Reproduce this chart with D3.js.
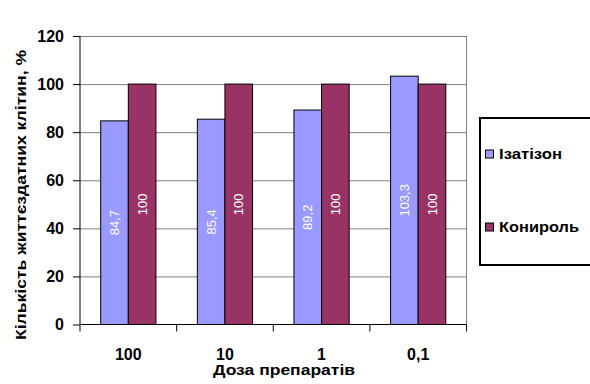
<!DOCTYPE html>
<html>
<head>
<meta charset="utf-8">
<script src="https://cdn.jsdelivr.net/npm/d3@7/dist/d3.min.js"></script>
<style>
  body { margin: 0; background: #fff; }
  svg { display: block; font-family: "Liberation Sans", Arial, sans-serif; }
</style>
</head>
<body>
<svg id="chart" width="590" height="384"></svg>
<script>
const categories = ["100", "10", "1", "0,1"];
const seriesNames = ["Ізатізон", "Конироль"];
const isatizon = [84.7, 85.4, 89.2, 103.3];
const control = [100, 100, 100, 100];
const valueLabels1 = ["84,7", "85,4", "89,2", "103,3"];
const valueLabels2 = ["100", "100", "100", "100"];
const yTicks = [0, 20, 40, 60, 80, 100, 120];
const yTitle = "Кількість життєздатних  клітин, %";
const xTitle = "Доза препаратів";
const colors = ["#9999FF", "#993366"];

(function () {
const svg = d3.select("#chart");
const pL = 80, pR = 466.5, pT = 36, pB = 324.5;

const x = d3.scaleBand().domain(categories).range([pL, pR]).paddingInner(0).paddingOuter(0);
const y = d3.scaleLinear().domain([0, 120]).range([pB, pT]);
const bw = x.bandwidth() / 3.5;
const gap = (x.bandwidth() - 2 * bw) / 2;

svg.append("g").selectAll("line").data(yTicks.filter(d => d > 0)).join("line")
  .attr("x1", pL).attr("x2", pR)
  .attr("y1", d => y(d) + 0.5).attr("y2", d => y(d) + 0.5)
  .attr("stroke", "#808080").attr("stroke-width", 1);
svg.append("line").attr("x1", pR).attr("x2", pR).attr("y1", pT).attr("y2", pB)
  .attr("stroke", "#808080");

const data = categories.map((c, i) => ({ c, vals: [isatizon[i], control[i]], labs: [valueLabels1[i], valueLabels2[i]] }));

const g = svg.append("g");
data.forEach(d => {
  d.vals.forEach((v, k) => {
    const bx = x(d.c) + gap + k * bw;
    g.append("rect")
      .attr("x", bx).attr("y", y(v))
      .attr("width", bw).attr("height", y(0) - y(v))
      .attr("fill", colors[k]).attr("stroke", "#000").attr("stroke-width", 1);
    const cx = bx + bw / 2, cy = (y(v) + y(0)) / 2;
    g.append("text")
      .attr("transform", `translate(${cx},${cy}) rotate(-90)`)
      .attr("text-anchor", "middle").attr("dy", "0.35em")
      .attr("fill", "#fff").attr("font-size", 13)
      .text(d.labs[k]);
  });
});

const yAxis = d3.axisLeft(y).tickValues(yTicks).tickSize(7).tickPadding(9).tickFormat(d3.format("d"));
const ya = svg.append("g").attr("transform", `translate(${pL},0)`).call(yAxis);
ya.selectAll("text").attr("font-size", 16).attr("font-weight", "bold").attr("fill", "#000")
  .attr("font-family", "Liberation Sans, Arial, sans-serif");
ya.selectAll("line,path").attr("stroke", "#000");
ya.select(".domain").attr("d", `M0,${pT}V${pB}`);

const xAxis = d3.axisBottom(x).tickSize(0).tickPadding(0).tickFormat("");
const xa = svg.append("g").attr("transform", `translate(0,${pB})`).call(xAxis);
xa.select(".domain").attr("stroke", "#000").attr("d", `M${pL},0H${pR}`);
const bounds = categories.map(c => x(c)).concat([pR]);
xa.selectAll(".bt").data(bounds).join("line").attr("class", "bt")
  .attr("x1", d => d).attr("x2", d => d).attr("y1", 0).attr("y2", 7).attr("stroke", "#000");
xa.selectAll(".cl").data(categories).join("text").attr("class", "cl")
  .attr("x", d => x(d) + x.bandwidth() / 2).attr("y", 35)
  .attr("text-anchor", "middle").attr("font-size", 16).attr("font-weight", "bold")
  .attr("fill", "#000").attr("font-family", "Liberation Sans, Arial, sans-serif")
  .text(d => d);

svg.append("text").attr("x", 284).attr("y", 375)
  .attr("text-anchor", "middle").attr("font-size", 14).attr("font-weight", "bold")
  .attr("textLength", 142).attr("lengthAdjust", "spacingAndGlyphs")
  .text(xTitle);
svg.append("text").attr("transform", "translate(26,195) rotate(-90)")
  .attr("text-anchor", "middle").attr("font-size", 14).attr("font-weight", "bold")
  .attr("textLength", 290).attr("lengthAdjust", "spacingAndGlyphs")
  .text(yTitle);

const lg = svg.append("g");
lg.append("rect").attr("x", 480).attr("y", 118).attr("width", 130).attr("height", 147)
  .attr("fill", "#fff").attr("stroke", "#000").attr("stroke-width", 2);
const ly = [154, 227];
const lw = [63, 80];
seriesNames.forEach((n, i) => {
  lg.append("rect").attr("x", 485.5).attr("y", ly[i] - 4).attr("width", 8).attr("height", 8)
    .attr("fill", colors[i]).attr("stroke", "#000");
  lg.append("text").attr("x", 499).attr("y", ly[i]).attr("dy", "0.35em")
    .attr("font-size", 15).attr("font-weight", "bold")
    .attr("textLength", lw[i]).attr("lengthAdjust", "spacingAndGlyphs").text(n);
});
})();
</script>
</body>
</html>
